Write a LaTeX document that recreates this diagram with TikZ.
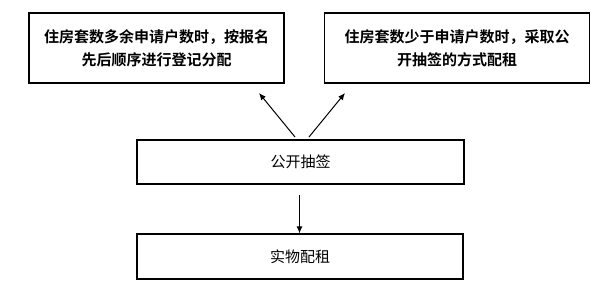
\documentclass[tikz,border=0pt]{standalone}
\usepackage{fontspec}
\newfontfamily\cjk{Noto Sans CJK SC}[BoldFont={Noto Sans CJK SC Bold}]
\usetikzlibrary{positioning,arrows.meta,calc}
\definecolor{line1}{HTML}{000000}

\begin{document}
\begin{tikzpicture}[x=1pt,y=-1pt,
  box/.style={draw=line1, line width=1.3pt, align=center, inner sep=0pt, font=\cjk\fontsize{15}{23}\selectfont},
  arr/.style={draw=line1, line width=1pt, -{Latex[length=7pt,width=6pt]}}]
\useasboundingbox (0,0) rectangle (601,283);
\node[box, line width=1.8pt, font=\cjk\bfseries\fontsize{15}{23}\selectfont, minimum width=255pt, minimum height=70pt] (left) at (156.5,48) {住房套数多余申请户数时，按报名\\先后顺序进行登记分配};
\node[box, line width=1.8pt, font=\cjk\bfseries\fontsize{15}{23}\selectfont, minimum width=265pt, minimum height=70pt] (right) at (457,48) {住房套数少于申请户数时，采取公\\开抽签的方式配租};
\node[box, minimum width=327pt, minimum height=44pt] (draw) at (300.5,162) {公开抽签};
\node[box, minimum width=326pt, minimum height=45pt] (rent) at (300,256.5) {实物配租};
% arrows
\coordinate (ls) at (295,137);
\coordinate (le) at (259,93);
\coordinate (rs) at (309,137);
\coordinate (re) at (345,93);
\coordinate (ds) at (299.5,195);
\draw[arr] (ls) -- (le);
\draw[arr] (rs) -- (re);
\draw[arr] (ds) -- (ds |- rent.north);
\end{tikzpicture}
\end{document}
